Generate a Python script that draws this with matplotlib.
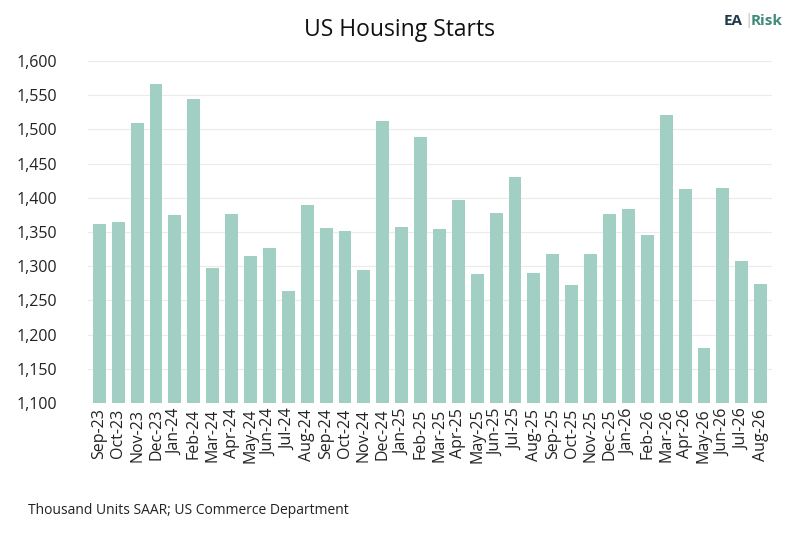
import matplotlib
matplotlib.use("Agg")
import matplotlib.pyplot as plt
from matplotlib.ticker import FuncFormatter

months = ["Sep-23","Oct-23","Nov-23","Dec-23","Jan-24","Feb-24","Mar-24","Apr-24","May-24","Jun-24","Jul-24","Aug-24",
          "Sep-24","Oct-24","Nov-24","Dec-24","Jan-25","Feb-25","Mar-25","Apr-25","May-25","Jun-25","Jul-25","Aug-25",
          "Sep-25","Oct-25","Nov-25","Dec-25","Jan-26","Feb-26","Mar-26","Apr-26","May-26","Jun-26","Jul-26","Aug-26"]
starts = [1362,1364,1509,1567,1375,1545,1298,1376,1315,1326,1264,1390,
          1356,1351,1294,1513,1357,1489,1354,1397,1288,1378,1431,1290,
          1318,1272,1318,1377,1384,1345,1521,1413,1181,1414,1308,1274]

plt.rcParams['font.family'] = ['Open Sans', 'DejaVu Sans']
fig = plt.figure(figsize=(7.99, 5.33), dpi=100)
ax = fig.add_axes([88/799, 130/533, 684/799, 342/533])
ax.bar(range(len(months)), starts, width=0.68, color="#a2cfc3", zorder=2)
ax.set_ylim(1100, 1600)
ax.set_xlim(-0.6, len(months) - 0.4)
ax.set_yticks(range(1100, 1601, 50))
ax.yaxis.set_major_formatter(FuncFormatter(lambda v, p: f"{int(v):,}"))
ax.set_xticks(range(len(months)))
ax.set_xticklabels(months, rotation=90, fontsize=11.5, color="#222222")
ax.tick_params(axis='y', labelsize=11.5, colors="#222222", length=0, pad=22)
ax.tick_params(axis='x', length=0, pad=4)
ax.grid(axis='y', color="#ebebeb", linewidth=0.8, zorder=0)
for s in ax.spines.values():
    s.set_visible(False)
fig.text(0.5, 1 - 30/533, "US Housing Starts", ha='center', va='center', fontsize=16.5, color="#111111")
fig.text(28/799, 1 - 510/533, "Thousand Units SAAR; US Commerce Department", ha='left', va='center', fontsize=10, color="#222222")
fig.text(724/799, 1 - 21/533, "EA", ha='left', va='center', fontsize=11, fontweight='bold', color="#1f3a4a")
fig.text(744/799, 1 - 21/533, "|", ha='left', va='center', fontsize=11, color="#bbbbbb")
fig.text(751/799, 1 - 21/533, "Risk", ha='left', va='center', fontsize=11, fontweight='bold', color="#3f8a7a")
fig.savefig("out.png", dpi=100, facecolor="white")
